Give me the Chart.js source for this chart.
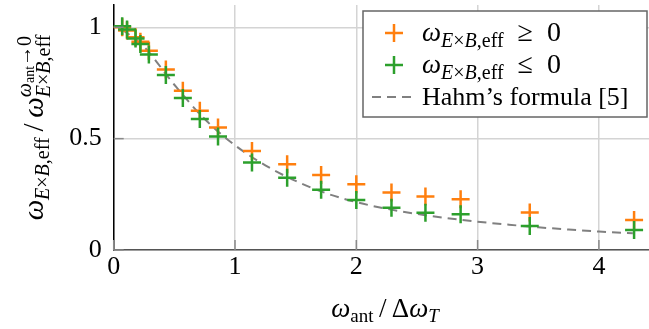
<!DOCTYPE html>
<html>
<head>
<meta charset="utf-8">
<script src="https://cdn.jsdelivr.net/npm/chart.js@4/dist/chart.umd.min.js"></script>
<style>
    html, body { margin: 0; padding: 0; background: #fff; }
    #wrap { width: 649px; height: 329px; }
</style>
</head>
<body>
<div id="wrap"><canvas id="chart"></canvas></div>
<script>
// Data
const xVals = [0.07, 0.11, 0.18, 0.22, 0.29, 0.43, 0.57, 0.71, 0.86, 1.14, 1.43, 1.71, 2.0, 2.29, 2.57, 2.86, 3.43, 4.29];
const posVals = [1.0, 0.985, 0.955, 0.935, 0.895, 0.81, 0.715, 0.625, 0.55, 0.445, 0.385, 0.337, 0.295, 0.258, 0.24, 0.228, 0.168, 0.135];
const negVals = [1.005, 0.99, 0.95, 0.925, 0.878, 0.786, 0.683, 0.588, 0.51, 0.393, 0.324, 0.27, 0.224, 0.19, 0.167, 0.16, 0.108, 0.09];

const hahmX = [0.07, 0.25, 0.5, 0.75, 1.0, 1.25, 1.5, 1.75, 2.0, 2.25, 2.5, 2.75, 3.0, 3.25, 3.5, 3.75, 4.0, 4.28];
const hahmY = [0.99, 0.912, 0.742, 0.588, 0.47, 0.38, 0.31, 0.255, 0.215, 0.185, 0.162, 0.143, 0.127, 0.114, 0.102, 0.092, 0.083, 0.075];

const xTicks = [0, 1, 2, 3, 4];
const yTicks = [0, 0.5, 1];

const ORANGE = '#ff7f0e';
const GREEN = '#2ca02c';
const GRAY = '#808080';

// Rich text helpers (sub/superscripts)
function font(size, italic) {
    return (italic ? 'italic ' : '') + size + 'px "Liberation Serif", "Times New Roman", serif';
}

function sub(size, dy) {
    return [
        { t: 'E', s: size, i: true, dy: dy },
        { t: '\u00d7', s: size, dy: dy },
        { t: 'B', s: size, i: true, dy: dy },
        { t: ',eff', s: size, dy: dy }
    ];
}

function runsWidth(ctx, runs) {
    let w = 0;
    runs.forEach(r => {
        ctx.font = font(r.s, r.i);
        w += ctx.measureText(r.t).width;
    });
    return w;
}

function partWidth(ctx, p) {
    if (p.stack) return Math.max(...p.stack.map(rs => runsWidth(ctx, rs)));
    return runsWidth(ctx, [p]);
}

function drawRuns(ctx, runs, x, y) {
    runs.forEach(r => {
        ctx.font = font(r.s, r.i);
        ctx.fillText(r.t, x, y + (r.dy || 0));
        x += ctx.measureText(r.t).width;
    });
    return x;
}

function drawParts(ctx, parts, x, y, align) {
    if (align === 'center') {
        x -= parts.reduce((w, p) => w + partWidth(ctx, p), 0) / 2;
    }
    parts.forEach(p => {
        if (p.stack) {
            p.stack.forEach(rs => drawRuns(ctx, rs, x, y));
            x += partWidth(ctx, p);
        } else {
            x = drawRuns(ctx, [p], x, y);
        }
    });
}

const xTitle = [
    { t: '\u03c9', s: 27, i: true },
    { t: 'ant', s: 19, dy: 5 },
    { t: '\u2009/\u2009', s: 27 },
    { t: '\u0394', s: 27 },
    { t: '\u03c9', s: 27, i: true },
    { t: 'T', s: 19, i: true, dy: 5 }
];

const yTitle = [
    { t: '\u03c9', s: 29, i: true },
    ...sub(20, 6),
    { t: '\u2009/\u2009', s: 29 },
    { t: '\u03c9', s: 29, i: true },
    {
        stack: [
            [
                { t: '\u03c9', s: 20, i: true, dy: -12 },
                { t: 'ant', s: 14, dy: -9 },
                { t: '\u2192' + '0', s: 20, dy: -12 }
            ],
            sub(20, 7)
        ]
    }
];

const legendRows = [
    { kind: 'cross', color: ORANGE, parts: [{ t: '\u03c9', s: 27, i: true }, ...sub(20, 6), { t: '\u2002\u2265\u20020', s: 28 }] },
    { kind: 'cross', color: GREEN, parts: [{ t: '\u03c9', s: 27, i: true }, ...sub(20, 6), { t: '\u2002\u2264\u20020', s: 28 }] },
    { kind: 'dash', color: GRAY, parts: [{ t: 'Hahm\u2019s formula [5]', s: 26 }] }
];

// Titles, inner tick marks and legend
const decorations = {
    id: 'decorations',
    afterDraw(chart) {
        const ctx = chart.ctx;
        const area = chart.chartArea;
        const xs = chart.scales.x;
        const ys = chart.scales.y;
        ctx.save();

        // inner tick marks
        ctx.strokeStyle = '#8a8a8a';
        ctx.lineWidth = 1.5;
        xTicks.forEach(v => {
            const px = xs.getPixelForValue(v);
            ctx.beginPath();
            ctx.moveTo(px, area.bottom);
            ctx.lineTo(px, area.bottom - 10);
            ctx.stroke();
        });
        yTicks.forEach(v => {
            const py = ys.getPixelForValue(v);
            ctx.beginPath();
            ctx.moveTo(area.left, py);
            ctx.lineTo(area.left + 10, py);
            ctx.stroke();
        });

        ctx.fillStyle = '#000';
        ctx.textBaseline = 'alphabetic';
        ctx.textAlign = 'left';

        // x title
        drawParts(ctx, xTitle, 385, 317, 'center');

        // y title (rotated)
        ctx.save();
        ctx.translate(43, (area.top + area.bottom) / 2);
        ctx.rotate(-Math.PI / 2);
        drawParts(ctx, yTitle, 0, 0, 'center');
        ctx.restore();

        // legend box
        const bx = 363, by = 11, bw = 284, bh = 106;
        ctx.fillStyle = '#fff';
        ctx.fillRect(bx, by, bw, bh);
        ctx.strokeStyle = '#666';
        ctx.lineWidth = 1.5;
        ctx.strokeRect(bx, by, bw, bh);

        legendRows.forEach((row, k) => {
            const cy = 33 + k * 32;
            ctx.strokeStyle = row.color;
            if (row.kind === 'cross') {
                ctx.lineWidth = 2.5;
                ctx.setLineDash([]);
                ctx.beginPath();
                ctx.moveTo(385, cy);
                ctx.lineTo(403, cy);
                ctx.moveTo(394, cy - 9);
                ctx.lineTo(394, cy + 9);
                ctx.stroke();
            } else {
                ctx.lineWidth = 2;
                ctx.setLineDash([9, 6]);
                ctx.beginPath();
                ctx.moveTo(372, cy);
                ctx.lineTo(413, cy);
                ctx.stroke();
                ctx.setLineDash([]);
            }
            ctx.fillStyle = '#000';
            drawParts(ctx, row.parts, 422, cy + 8, 'left');
        });

        ctx.restore();
    }
};

// drop the automatic label overflow padding so the plot area stays fixed
function noPadding(scale) {
    scale.paddingTop = 0;
    scale.paddingBottom = 0;
    scale.paddingLeft = 0;
    scale.paddingRight = 0;
}

const tickFont = { family: '"Liberation Serif", "Times New Roman", serif', size: 26 };

new Chart(document.getElementById('chart'), {
    type: 'scatter',
    data: {
        datasets: [{
            label: 'pos',
            data: xVals.map((x, i) => ({ x: x, y: posVals[i] })),
            pointStyle: 'cross',
            pointRadius: 9,
            borderColor: ORANGE,
            borderWidth: 2.5,
            order: 2
        }, {
            label: 'neg',
            data: xVals.map((x, i) => ({ x: x, y: negVals[i] })),
            pointStyle: 'cross',
            pointRadius: 9,
            borderColor: GREEN,
            borderWidth: 2.5,
            order: 1
        }, {
            type: 'line',
            label: 'Hahm',
            data: hahmX.map((x, i) => ({ x: x, y: hahmY[i] })),
            borderColor: GRAY,
            borderWidth: 2,
            borderDash: [9, 6],
            pointRadius: 0,
            cubicInterpolationMode: 'monotone',
            fill: false,
            order: 3
        }]
    },
    options: {
        responsive: true,
        maintainAspectRatio: false,
        animation: false,
        devicePixelRatio: 1,
        layout: { autoPadding: false, padding: { top: 5, right: 0, left: 0, bottom: 0 } },
        plugins: {
            legend: { display: false },
            tooltip: { enabled: false }
        },
        scales: {
            x: {
                type: 'linear',
                min: 0,
                max: 4.413,
                afterBuildTicks: scale => { scale.ticks = xTicks.map(v => ({ value: v })); },
                afterFit: scale => { scale.height = 79; noPadding(scale); },
                ticks: { font: tickFont, color: '#000', padding: 2, maxRotation: 0 },
                grid: { color: '#d4d4d4', lineWidth: 1.5, drawTicks: false },
                border: { color: '#555', width: 1.5 }
            },
            y: {
                min: 0,
                max: 1.1,
                afterBuildTicks: scale => { scale.ticks = yTicks.map(v => ({ value: v })); },
                afterFit: scale => { scale.width = 113.7; noPadding(scale); },
                ticks: { font: tickFont, color: '#000', padding: 12, callback: v => String(v) },
                grid: { color: '#d4d4d4', lineWidth: 1.5, drawTicks: false },
                border: { color: '#000', width: 1.5 }
            }
        }
    },
    plugins: [decorations]
});
</script>
</body>
</html>
